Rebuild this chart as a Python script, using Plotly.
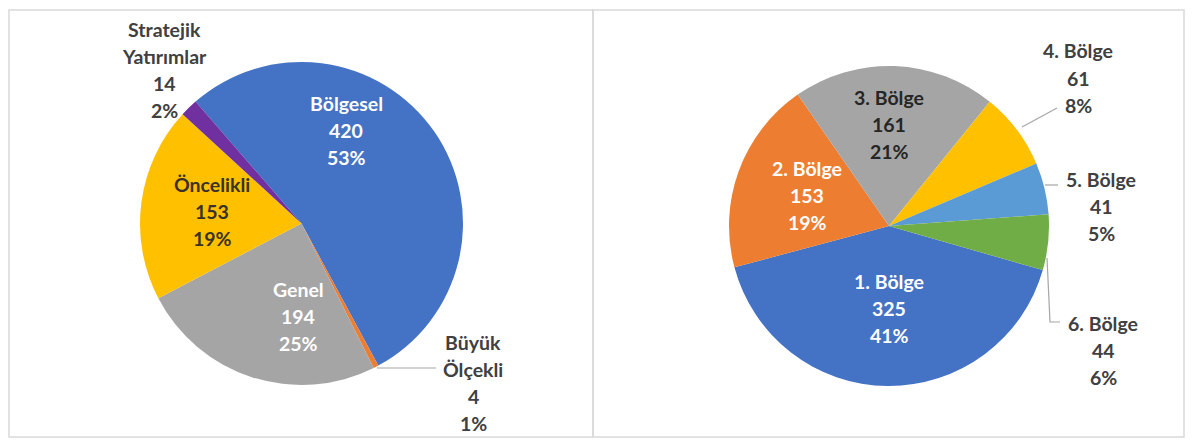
import plotly.graph_objects as go

W, H = 1192, 448

# ---------------- data ----------------
left_labels = ["Bölgesel", "Büyük Ölçekli", "Genel", "Öncelikli", "Stratejik Yatırımlar"]
left_values = [420, 4, 194, 153, 14]
left_pct = [53, 1, 25, 19, 2]

right_labels = ["1. Bölge", "2. Bölge", "3. Bölge", "4. Bölge", "5. Bölge", "6. Bölge"]
right_values = [325, 153, 161, 61, 41, 44]
right_pct = [41, 19, 21, 8, 5, 6]

# ---------------- styles ----------------
left_colors = ["#4472C4", "#ED7D31", "#A5A5A5", "#FFC000", "#7030A0"]
right_colors = ["#4472C4", "#ED7D31", "#A5A5A5", "#FFC000", "#5B9BD5", "#70AD47"]

# label name line breaks
left_name_lines = [["Bölgesel"], ["Büyük", "Ölçekli"], ["Genel"], ["Öncelikli"], ["Stratejik", "Yatırımlar"]]
right_name_lines = [[l] for l in right_labels]

# label placement (center x, first line y) in pixels, and colour
left_label_pos = [(346, 103), (473, 342), (298, 289), (212, 184), (164, 29)]
left_label_col = ["#FFFFFF", "#404040", "#FFFFFF", "#3A3226", "#404040"]
right_label_pos = [(889, 281), (807, 168), (889, 97), (1078, 51), (1101, 179), (1103, 323)]
right_label_col = ["#FFFFFF", "#FFFFFF", "#262626", "#404040", "#404040", "#404040"]
LINE_STEP = 27.3
FONT_SIZE = 19.5

# pie geometry in pixels: center x, center y, radius
left_geom = (301.5, 223.5, 161.5)
right_geom = (889, 226, 160)


def px(x):
    return x / W


def py(y):
    return 1 - y / H


def domain(g):
    cx, cy, r = g
    return dict(x=[px(cx - r), px(cx + r)], y=[py(cy + r), py(cy - r)])


fig = go.Figure()
fig.add_trace(go.Pie(
    labels=left_labels, values=left_values, sort=False, direction="clockwise",
    rotation=-41, marker=dict(colors=left_colors, line=dict(width=0)),
    textinfo="none", domain=domain(left_geom), showlegend=False, hoverinfo="label+value+percent"))
fig.add_trace(go.Pie(
    labels=right_labels, values=right_values, sort=False, direction="clockwise",
    rotation=106, marker=dict(colors=right_colors, line=dict(width=0)),
    textinfo="none", domain=domain(right_geom), showlegend=False, hoverinfo="label+value+percent"))

annotations = []


def add_labels(name_lines, values, pcts, pos, cols):
    for nl, v, p, (x, y), c in zip(name_lines, values, pcts, pos, cols):
        lines = nl + [str(v), f"{p}%"]
        for i, t in enumerate(lines):
            annotations.append(dict(
                x=px(x), y=py(y + i * LINE_STEP), xref="paper", yref="paper",
                text=f"<b>{t}</b>", showarrow=False, xanchor="center", yanchor="middle",
                font=dict(family="Lato", size=FONT_SIZE, color=c)))


add_labels(left_name_lines, left_values, left_pct, left_label_pos, left_label_col)
add_labels(right_name_lines, right_values, right_pct, right_label_pos, right_label_col)

shapes = []
# panel frames
for x0, x1 in [(9, 593), (593, 1184)]:
    shapes.append(dict(type="rect", xref="paper", yref="paper",
                       x0=px(x0), x1=px(x1), y0=py(437), y1=py(10),
                       line=dict(color="#D9D9D9", width=1.5), fillcolor="rgba(0,0,0,0)"))

# leader lines
leaders = [
    [(377, 368), (436, 368)],
    [(1022, 127), (1057, 108)],
    [(1045, 185), (1058, 185)],
    [(1047, 258), (1050, 322), (1060, 322)],
]
for pts in leaders:
    path = "M " + " L ".join(f"{px(x)},{py(y)}" for x, y in pts)
    shapes.append(dict(type="path", xref="paper", yref="paper", path=path,
                       line=dict(color="#A6A6A6", width=1.2)))

fig.update_layout(
    width=W, height=H, margin=dict(l=0, r=0, t=0, b=0),
    paper_bgcolor="#FFFFFF", plot_bgcolor="#FFFFFF",
    annotations=annotations, shapes=shapes,
)

fig.write_html("out.html")
